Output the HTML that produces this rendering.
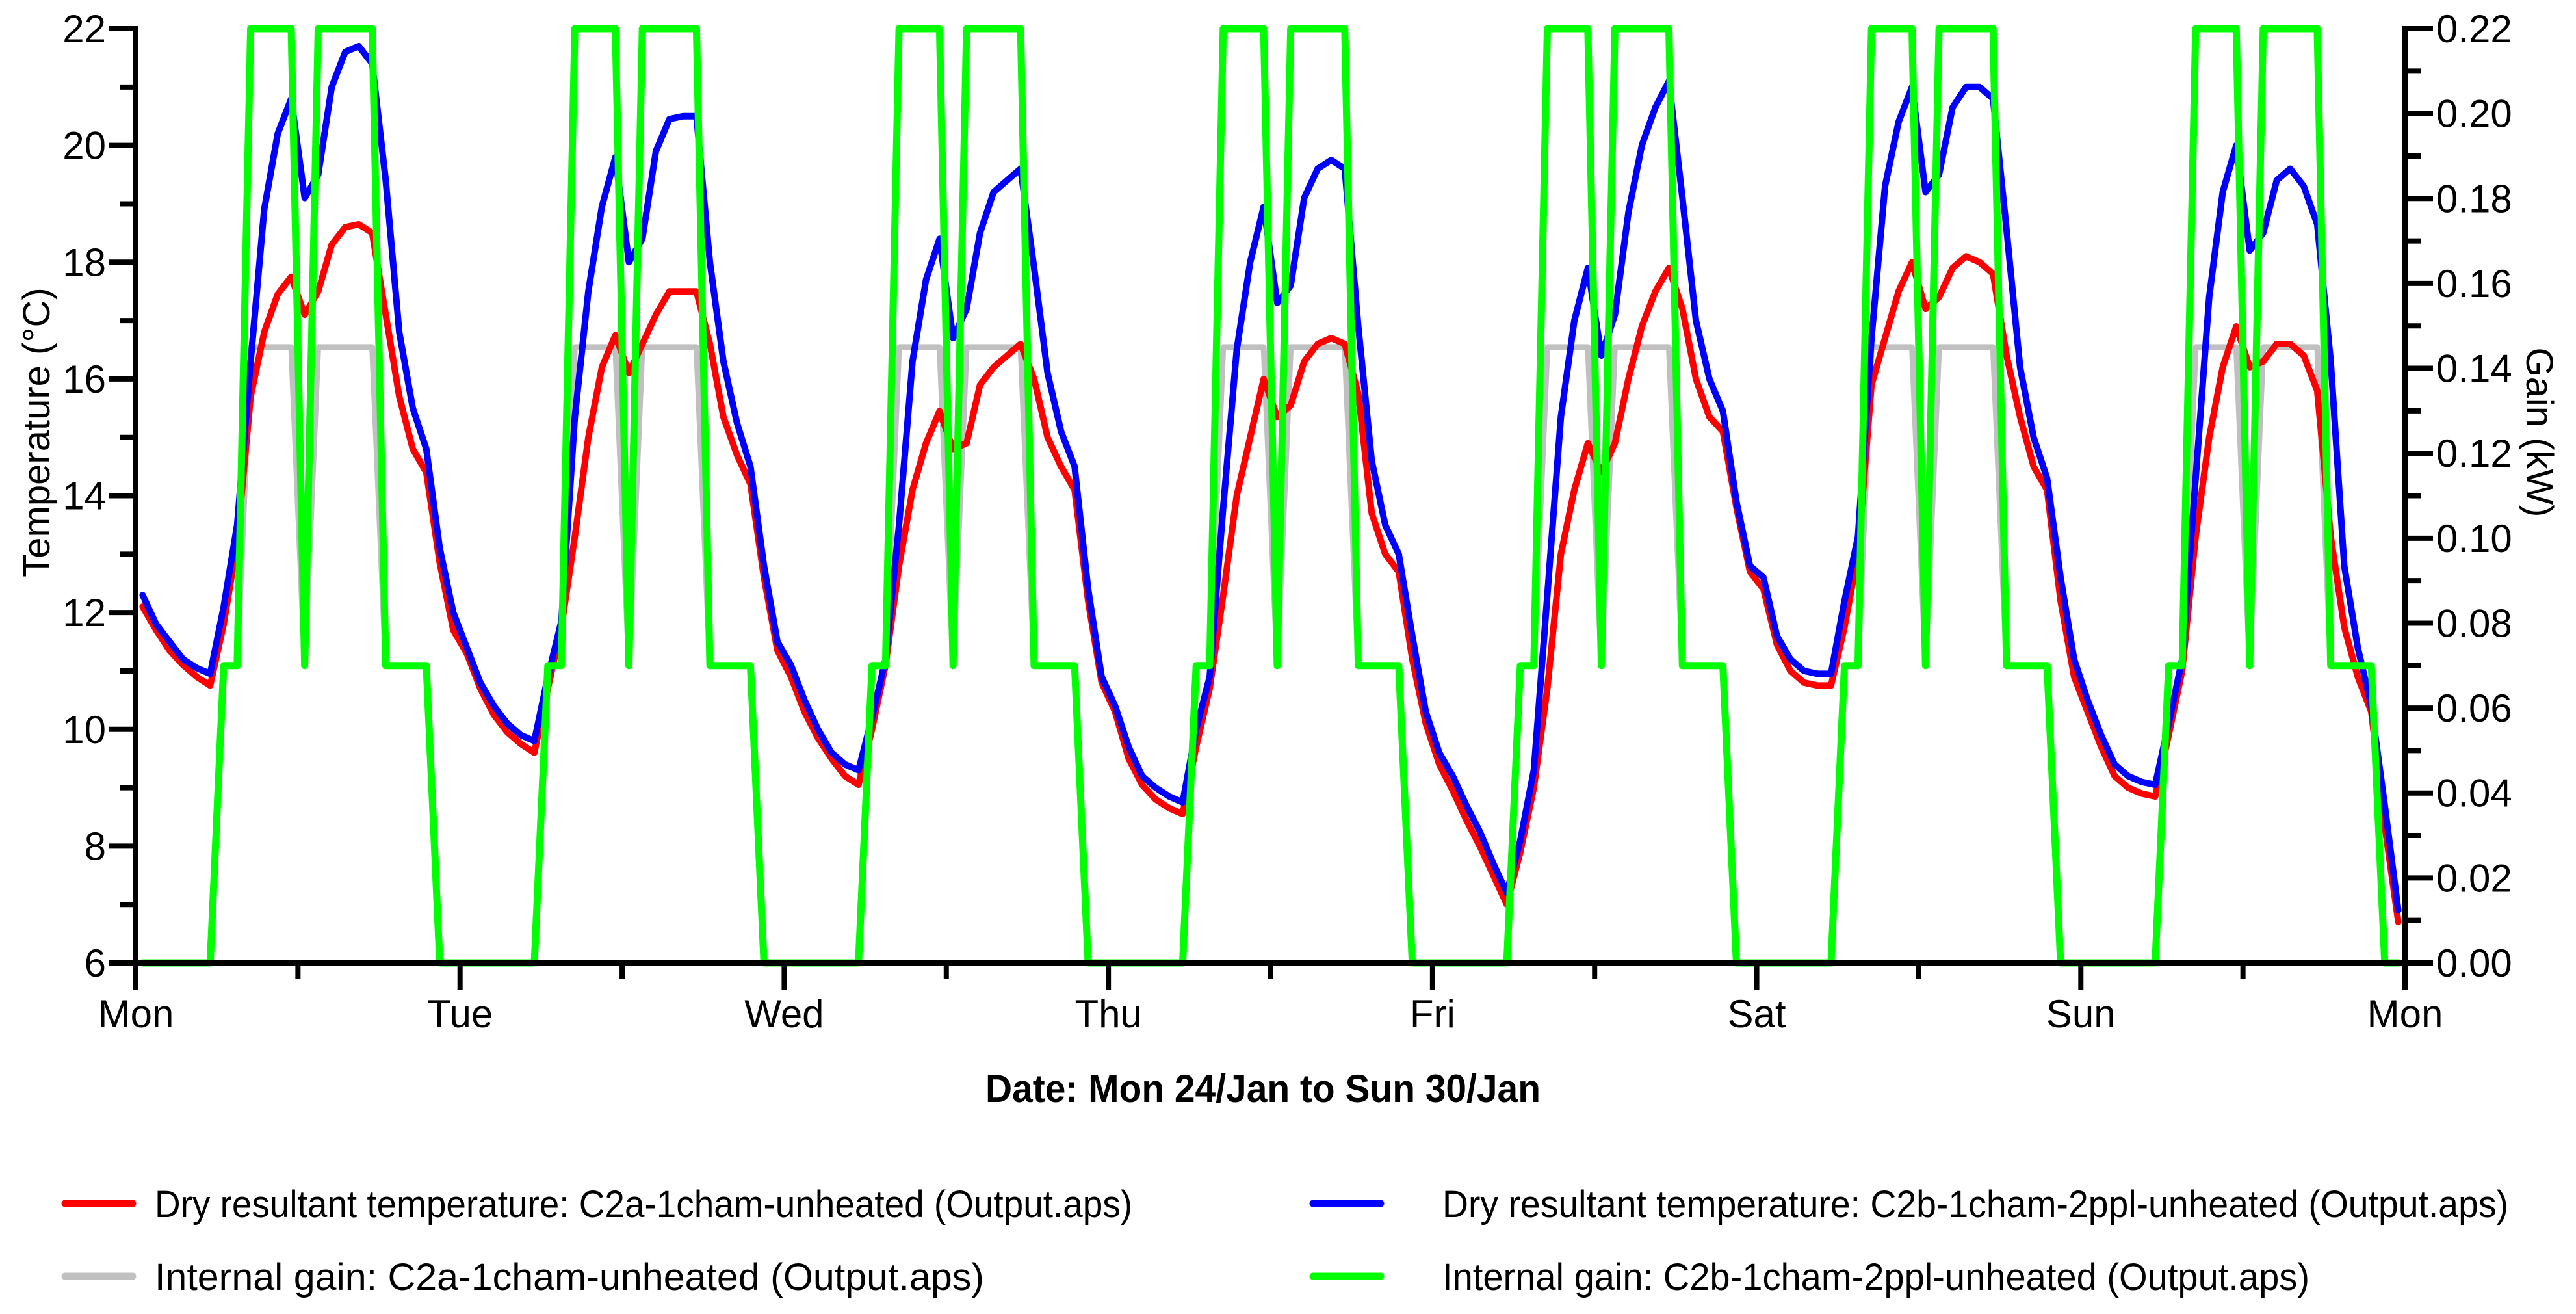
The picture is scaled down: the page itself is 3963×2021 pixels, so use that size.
<!DOCTYPE html>
<html><head><meta charset="utf-8"><title>Temperature and internal gain</title>
<style>html,body{margin:0;padding:0;background:#fff}svg{display:block;font-family:"Liberation Sans",Arial,sans-serif}</style>
</head><body>
<svg id="chart" width="3963" height="2021" viewBox="0 0 3963 2021" xmlns="http://www.w3.org/2000/svg">
<rect x="0" y="0" width="3963" height="2021" fill="#fff"/>
<g id="series"></g>
<g id="axes"></g>
<text transform="translate(76,665) rotate(-90)" text-anchor="middle" font-size="58">Temperature (°C)</text>
<text transform="translate(3887,665) rotate(90)" text-anchor="middle" font-size="58">Gain (kW)</text>
<text x="1516" y="1695" font-size="60" font-weight="bold" textLength="854" lengthAdjust="spacingAndGlyphs">Date: Mon 24/Jan to Sun 30/Jan</text>
<g font-size="58">
 <g><line x1="100" y1="1851" x2="204" y2="1851" stroke="#ff0000" stroke-width="11" stroke-linecap="round"/><text x="238" y="1872" textLength="1504" lengthAdjust="spacingAndGlyphs">Dry resultant temperature: C2a-1cham-unheated (Output.aps)</text></g>
 <g><line x1="2020" y1="1851" x2="2124" y2="1851" stroke="#0000ff" stroke-width="11" stroke-linecap="round"/><text x="2219" y="1872" textLength="1640" lengthAdjust="spacingAndGlyphs">Dry resultant temperature: C2b-1cham-2ppl-unheated (Output.aps)</text></g>
 <g><line x1="100" y1="1963" x2="204" y2="1963" stroke="#c0c0c0" stroke-width="11" stroke-linecap="round"/><text x="238" y="1984" textLength="1276" lengthAdjust="spacingAndGlyphs">Internal gain: C2a-1cham-unheated (Output.aps)</text></g>
 <g><line x1="2020" y1="1963" x2="2124" y2="1963" stroke="#00ff00" stroke-width="11" stroke-linecap="round"/><text x="2219" y="1984" textLength="1334" lengthAdjust="spacingAndGlyphs">Internal gain: C2b-1cham-2ppl-unheated (Output.aps)</text></g>
</g>
</svg>
<script>
// hourly samples at t = k + 0.5 hours from Mon 00:00
const dayLabels = ["Mon","Tue","Wed","Thu","Fri","Sat","Sun","Mon"];
const tempTicks = [6,8,10,12,14,16,18,20,22];
const gainTicks = ["0.00","0.02","0.04","0.06","0.08","0.10","0.12","0.14","0.16","0.18","0.20","0.22"];
const tempRed = [
12.1,11.7,11.35,11.1,10.9,10.75,11.8,13.2,15.7,16.8,17.45,17.75,17.1,17.5,18.3,18.6,18.65,18.5,17.1,15.7,14.8,14.4,12.85,11.7,
11.3,10.7,10.25,9.95,9.75,9.6,10.7,11.75,13.3,15.0,16.2,16.75,16.1,16.6,17.1,17.5,17.5,17.5,16.6,15.35,14.7,14.2,12.6,11.35,
10.9,10.3,9.85,9.5,9.2,9.05,10.0,11.1,12.8,14.1,14.9,15.45,14.8,14.9,15.9,16.2,16.4,16.6,16.0,15.0,14.5,14.1,12.2,10.8,
10.3,9.5,9.05,8.8,8.65,8.55,9.7,10.7,12.3,14.0,15.0,16.0,15.35,15.55,16.3,16.6,16.7,16.6,15.75,13.7,13.0,12.7,11.2,10.1,
9.4,8.95,8.45,8.0,7.5,7.0,7.9,9.0,10.7,13.0,14.1,14.9,14.4,14.9,16.0,16.9,17.5,17.9,17.2,16.0,15.35,15.1,13.8,12.7,
12.4,11.45,11.0,10.8,10.75,10.75,11.75,13.0,15.9,16.7,17.5,18.0,17.2,17.4,17.9,18.1,18.0,17.8,16.4,15.35,14.5,14.1,12.2,10.9,
10.3,9.7,9.2,9.0,8.9,8.85,9.9,11.0,13.3,15.0,16.2,16.9,16.2,16.3,16.6,16.6,16.4,15.8,13.3,11.75,10.9,10.3,8.35,6.7];
const tempBlue = [
12.3,11.8,11.5,11.2,11.05,10.95,12.1,13.5,16.3,18.9,20.2,20.8,19.1,19.5,21.0,21.6,21.7,21.4,19.4,16.8,15.5,14.8,13.1,12.0,
11.4,10.8,10.4,10.1,9.9,9.8,10.9,11.85,15.35,17.5,18.95,19.8,18.0,18.4,19.9,20.45,20.5,20.5,18.0,16.3,15.25,14.5,12.8,11.5,
11.1,10.5,10.0,9.6,9.4,9.3,10.2,11.2,13.5,16.3,17.7,18.4,16.7,17.2,18.5,19.2,19.4,19.6,17.9,16.1,15.1,14.5,12.4,10.9,
10.4,9.7,9.2,9.0,8.85,8.75,10.0,10.9,13.8,16.5,18.0,18.95,17.3,17.6,19.1,19.6,19.75,19.6,16.9,14.6,13.5,13.0,11.6,10.3,
9.6,9.2,8.7,8.25,7.7,7.2,8.1,9.3,12.3,15.35,17.0,17.9,16.4,17.1,18.85,20.0,20.65,21.1,19.1,17.0,16.0,15.45,13.9,12.8,
12.6,11.6,11.2,11.0,10.95,10.95,12.2,13.3,16.7,19.3,20.4,21.0,19.2,19.5,20.65,21.0,21.0,20.8,18.55,16.2,15.0,14.3,12.6,11.2,
10.5,9.9,9.4,9.2,9.1,9.05,10.1,11.2,14.3,17.4,19.2,20.0,18.2,18.5,19.4,19.6,19.3,18.65,16.3,12.8,11.4,10.4,8.7,6.9];
const gainGrey = [
0,0,0,0,0,0,0.07,0.07,0.145,0.145,0.145,0.145,0.07,0.145,0.145,0.145,0.145,0.145,0.07,0.07,0.07,0.07,0,0,
0,0,0,0,0,0,0.07,0.07,0.145,0.145,0.145,0.145,0.07,0.145,0.145,0.145,0.145,0.145,0.07,0.07,0.07,0.07,0,0,
0,0,0,0,0,0,0.07,0.07,0.145,0.145,0.145,0.145,0.07,0.145,0.145,0.145,0.145,0.145,0.07,0.07,0.07,0.07,0,0,
0,0,0,0,0,0,0.07,0.07,0.145,0.145,0.145,0.145,0.07,0.145,0.145,0.145,0.145,0.145,0.07,0.07,0.07,0.07,0,0,
0,0,0,0,0,0,0.07,0.07,0.145,0.145,0.145,0.145,0.07,0.145,0.145,0.145,0.145,0.145,0.07,0.07,0.07,0.07,0,0,
0,0,0,0,0,0,0.07,0.07,0.145,0.145,0.145,0.145,0.07,0.145,0.145,0.145,0.145,0.145,0.07,0.07,0.07,0.07,0,0,
0,0,0,0,0,0,0.07,0.07,0.145,0.145,0.145,0.145,0.07,0.145,0.145,0.145,0.145,0.145,0.07,0.07,0.07,0.07,0,0];
const gainGreen = [
0,0,0,0,0,0,0.07,0.07,0.22,0.22,0.22,0.22,0.07,0.22,0.22,0.22,0.22,0.22,0.07,0.07,0.07,0.07,0,0,
0,0,0,0,0,0,0.07,0.07,0.22,0.22,0.22,0.22,0.07,0.22,0.22,0.22,0.22,0.22,0.07,0.07,0.07,0.07,0,0,
0,0,0,0,0,0,0.07,0.07,0.22,0.22,0.22,0.22,0.07,0.22,0.22,0.22,0.22,0.22,0.07,0.07,0.07,0.07,0,0,
0,0,0,0,0,0,0.07,0.07,0.22,0.22,0.22,0.22,0.07,0.22,0.22,0.22,0.22,0.22,0.07,0.07,0.07,0.07,0,0,
0,0,0,0,0,0,0.07,0.07,0.22,0.22,0.22,0.22,0.07,0.22,0.22,0.22,0.22,0.22,0.07,0.07,0.07,0.07,0,0,
0,0,0,0,0,0,0.07,0.07,0.22,0.22,0.22,0.22,0.07,0.22,0.22,0.22,0.22,0.22,0.07,0.07,0.07,0.07,0,0,
0,0,0,0,0,0,0.07,0.07,0.22,0.22,0.22,0.22,0.07,0.22,0.22,0.22,0.22,0.22,0.07,0.07,0.07,0.07,0,0];

const NS = "http://www.w3.org/2000/svg";
const L = 209, R = 3700, T = 44, B = 1481;
const xS = t => L + t * (R - L) / 168;
const yT = v => B - (v - 6) * (B - T) / 16;
const yG = g => B - g * (B - T) / 0.22;

function mk(tag, attrs, parent) {
  const e = document.createElementNS(NS, tag);
  for (const k in attrs) e.setAttribute(k, attrs[k]);
  parent.appendChild(e);
  return e;
}
const series = document.getElementById('series');
const axes = document.getElementById('axes');

function drawLine(vals, yf, color, w, name) {
  const d = vals.map((v, i) => (i ? 'L' : 'M') + xS(i + 0.5).toFixed(1) + ',' + yf(v).toFixed(1)).join('');
  const p = mk('path', {d: d, fill: 'none', stroke: color, 'stroke-width': w, 'stroke-linejoin': 'round', 'stroke-linecap': 'round'}, series);
  
  
}
drawLine(gainGrey, yG, '#c0c0c0', 9, 'series-internal-gain-c2a');
drawLine(tempRed, yT, '#ff0000', 10, 'series-temp-c2a');
drawLine(tempBlue, yT, '#0000ff', 10, 'series-temp-c2b');
drawLine(gainGreen, yG, '#00ff00', 11, 'series-internal-gain-c2b');

const ax = {stroke: '#000', 'stroke-width': 8, 'stroke-linecap': 'butt'};
let e;
e = mk('line', Object.assign({x1: L, y1: T - 4, x2: L, y2: 1523}, ax), axes);


e = mk('line', Object.assign({x1: R, y1: T - 4, x2: R, y2: 1523}, ax), axes);


e = mk('line', Object.assign({x1: L - 4, y1: B, x2: R + 4, y2: B}, ax), axes);



for (let v = 6; v <= 22; v++) {
  const major = v % 2 === 0;
  e = mk('line', Object.assign({x1: major ? 168 : 185, y1: yT(v), x2: L, y2: yT(v)}, ax), axes);
  
  
}
tempTicks.forEach(v => {
  e = mk('text', {x: 163, y: yT(v) + 21, 'text-anchor': 'end', 'font-size': 60}, axes);
  e.textContent = v;
  
  
});
for (let i = 0; i <= 22; i++) {
  const g = i * 0.01, major = i % 2 === 0;
  e = mk('line', Object.assign({x1: R, y1: yG(g), x2: major ? 3743 : 3725, y2: yG(g)}, ax), axes);
  
  
}
gainTicks.forEach(s => {
  e = mk('text', {x: 3748, y: yG(parseFloat(s)) + 21, 'font-size': 60}, axes);
  e.textContent = s;
  
  
});
for (let h = 0; h <= 168; h += 12) {
  const major = h % 24 === 0;
  e = mk('line', Object.assign({x1: xS(h), y1: B, x2: xS(h), y2: major ? 1523 : 1505}, ax), axes);
  
  
}
dayLabels.forEach((s, i) => {
  e = mk('text', {x: xS(i * 24), y: 1580, 'text-anchor': 'middle', 'font-size': 60}, axes);
  e.textContent = s;
  
  
});
</script>
</body></html>
